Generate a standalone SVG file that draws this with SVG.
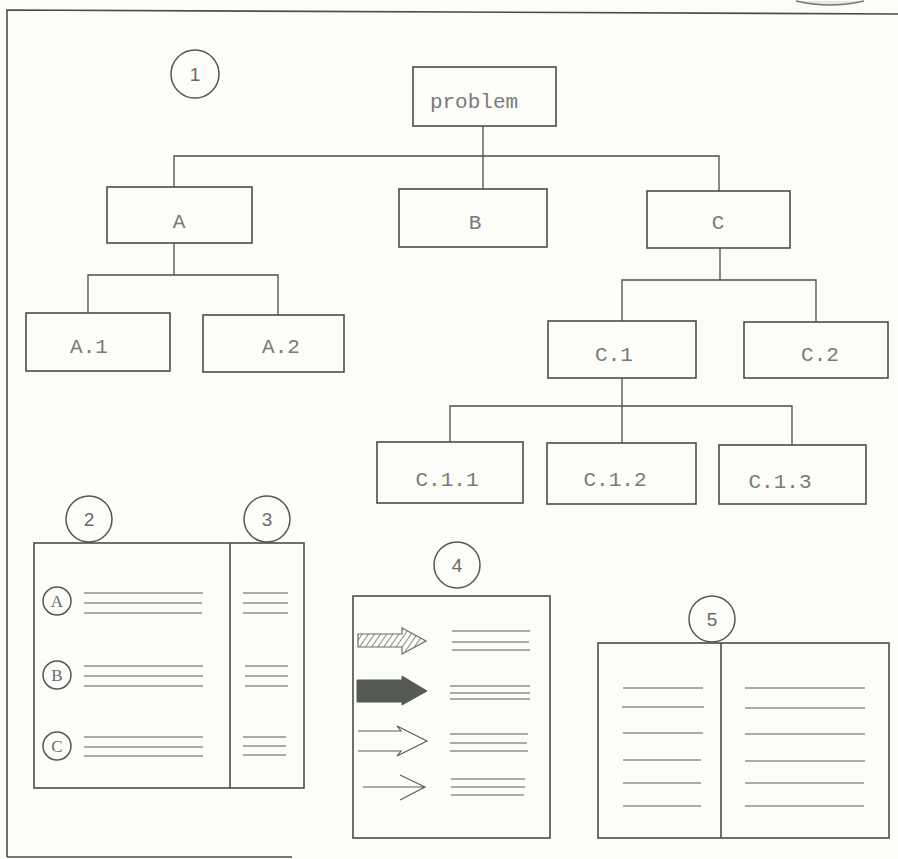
<svg xmlns="http://www.w3.org/2000/svg" width="898" height="859" viewBox="0 0 898 859">
<defs>
<style>
.bx{fill:none;stroke:#4a4d4a;stroke-width:1.6}
.ln{fill:none;stroke:#4a4d4a;stroke-width:1.3}
.tl{fill:none;stroke:#5a5d5a;stroke-width:1.2}
.lb{font-family:"Liberation Mono","DejaVu Sans Mono",monospace;font-size:21px;fill:#7a7a78;text-anchor:middle}
.sm{font-family:"Liberation Serif","Times New Roman",serif;font-size:17px;fill:#6a6a68;text-anchor:middle}
.nm{font-family:"Liberation Sans",Arial,sans-serif;font-size:19px;fill:#6a6a68;text-anchor:middle}
.cc{fill:none;stroke:#555855;stroke-width:1.5}
</style>
<pattern id="hatch" patternUnits="userSpaceOnUse" width="5" height="5" patternTransform="rotate(35)">
<line x1="0" y1="0" x2="0" y2="5" stroke="#6a6d6a" stroke-width="1.6"/>
</pattern>
</defs>
<rect x="0" y="0" width="898" height="859" fill="#fcfcf8"/>
<!-- frame -->
<path d="M7,857 L7,10 L898,14" class="bx"/>
<line x1="7" y1="857" x2="292" y2="857" class="bx"/>
<path d="M796,1 Q830,9 864,1" fill="#e6e6e2" stroke="#777" stroke-width="1.5"/>

<!-- connectors -->
<g id="connectors" class="ln">
<path d="M483,126 L483,189"/>
<path d="M174,187 L174,156 L719,156 L719,191"/>
<path d="M174,243 L174,275"/>
<path d="M88,313 L88,275 L278,275 L278,315"/>
<path d="M720,248 L720,280"/>
<path d="M622,321 L622,280 L816,280 L816,322"/>
<path d="M622,378 L622,443"/>
<path d="M450,442 L450,406 L792,406 L792,445"/>
</g>

<g id="n1"><circle cx="195" cy="74" r="24" class="cc"/><text x="195" y="81" class="nm">1</text></g>
<g id="problem"><rect x="413" y="67" width="143" height="59" class="bx"/><text x="474" y="108" class="lb">problem</text></g>
<g id="A"><rect x="107" y="187" width="145" height="56" class="bx"/><text x="179" y="228" class="lb">A</text></g>
<g id="B"><rect x="399" y="189" width="148" height="58" class="bx"/><text x="475" y="229" class="lb">B</text></g>
<g id="C"><rect x="647" y="191" width="143" height="57" class="bx"/><text x="718" y="229" class="lb">C</text></g>
<g id="A1"><rect x="26" y="313" width="144" height="58" class="bx"/><text x="89" y="353" class="lb">A.1</text></g>
<g id="A2"><rect x="203" y="315" width="141" height="57" class="bx"/><text x="281" y="353" class="lb">A.2</text></g>
<g id="C1"><rect x="548" y="321" width="148" height="57" class="bx"/><text x="614" y="361" class="lb">C.1</text></g>
<g id="C2"><rect x="744" y="322" width="144" height="56" class="bx"/><text x="820" y="361" class="lb">C.2</text></g>
<g id="C11"><rect x="377" y="442" width="146" height="61" class="bx"/><text x="447" y="486" class="lb">C.1.1</text></g>
<g id="C12"><rect x="547" y="443" width="149" height="61" class="bx"/><text x="615" y="486" class="lb">C.1.2</text></g>
<g id="C13"><rect x="719" y="445" width="147" height="59" class="bx"/><text x="780" y="488" class="lb">C.1.3</text></g>

<!-- panel 2/3 -->
<g id="n2"><circle cx="89" cy="519" r="23" class="cc"/><text x="89" y="526" class="nm">2</text></g>
<g id="n3"><circle cx="267" cy="519" r="23" class="cc"/><text x="267" y="526" class="nm">3</text></g>
<g id="panel23">
<rect x="34" y="543" width="270" height="245" class="bx"/>
<line x1="230" y1="543" x2="230" y2="788" class="bx"/>
<circle cx="57" cy="601" r="14" class="cc"/><text x="57" y="607" class="sm">A</text>
<circle cx="57" cy="675" r="14" class="cc"/><text x="57" y="681" class="sm">B</text>
<circle cx="57" cy="746" r="14" class="cc"/><text x="57" y="752" class="sm">C</text>
<path class="tl" d="M84,593 H203 M84,603 H202 M84,613 H202 M84,666 H203 M84,676 H203 M84,686 H203 M84,737 H203 M84,747 H203 M84,756 H203"/>
<path class="tl" d="M243,593 H288 M243,603 H288 M243,613 H288 M245,666 H288 M245,676 H288 M245,686 H288 M243,737 H286 M243,746 H286 M243,755 H286"/>
</g>

<!-- panel 4 -->
<g id="n4"><circle cx="457" cy="565" r="23" class="cc"/><text x="457" y="572" class="nm">4</text></g>
<g id="panel4">
<rect x="353" y="596" width="197" height="242" class="bx"/>
<path d="M358,634 L402,634 L402,628 L426,641 L402,654 L402,647 L358,647 Z" fill="url(#hatch)" stroke="#6a6d6a" stroke-width="1.2"/>
<path d="M357,680 L402,680 L402,676 L427,691 L402,705 L402,702 L357,702 Z" fill="#555a55" stroke="#555a55" stroke-width="1"/>
<path d="M358,731 L401,731 L397,726 L427,741 L397,756 L401,751 L358,751" class="tl"/>
<path d="M363,787 L425,787 M400,775 L425,787 L400,800" class="tl"/>
<path class="tl" d="M452,631 H530 M452,642 H529 M452,650 H530 M450,686 H530 M450,693 H530 M450,699 H530 M450,734 H528 M450,743 H527 M450,751 H528 M451,779 H525 M451,787 H525 M451,795 H524"/>
</g>

<!-- panel 5 -->
<g id="n5"><circle cx="712" cy="619" r="23" class="cc"/><text x="712" y="626" class="nm">5</text></g>
<g id="panel5">
<rect x="598" y="643" width="291" height="195" class="bx"/>
<line x1="721" y1="643" x2="721" y2="838" class="bx"/>
<path class="tl" d="M623,688 H703 M622,707 H704 M623,733 H703 M623,760 H701 M623,783 H701 M623,806 H701"/>
<path class="tl" d="M745,688 H865 M745,708 H865 M745,734 H865 M745,761 H865 M745,783 H864 M745,806 H864"/>
</g>
</svg>
